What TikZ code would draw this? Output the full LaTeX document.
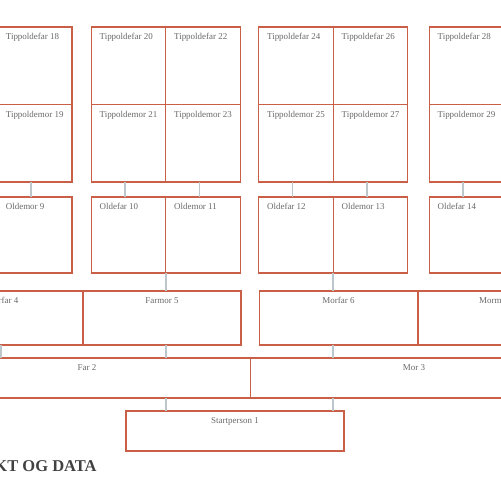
\documentclass[tikz,border=0pt]{standalone}
\usepackage{fontspec}
\setmainfont{Liberation Serif}
\definecolor{boxline}{RGB}{200,95,70}
\definecolor{linkgray}{RGB}{188,198,203}
\definecolor{labelgray}{RGB}{105,105,105}
\definecolor{headgray}{RGB}{65,65,65}
\tikzset{
  person/.style={draw=boxline, line width=0.6pt, inner sep=0pt, outer sep=0pt},
  gen5/.style={person, minimum width=1.49cm, minimum height=1.55cm},
  gen4/.style={person, minimum width=1.49cm, minimum height=1.52cm},
  gen3/.style={person, minimum width=3.16cm, minimum height=1.08cm},
  gen2/.style={person, minimum width=6.54cm, minimum height=0.80cm},
  gen1/.style={person, minimum width=4.36cm, minimum height=0.80cm},
  lbl/.style={inner sep=0pt, text=labelgray, font=\fontsize{5.1}{6}\selectfont},
  tl/.style={label={[lbl, anchor=north west, xshift=0.16cm, yshift=-0.125cm]north west:#1}},
  tc/.style={label={[lbl, anchor=north, yshift=-0.12cm]north:#1}},
  link/.style={draw=linkgray, line width=1.1pt}
}
\begin{document}
\begin{tikzpicture}[x=0.02cm, y=-0.02cm]
\useasboundingbox (0,0) rectangle (500,500);

% Tippoldeforeldre (top)
\node[gen5, tl={Tippoldefar 18}] (t18) at (34.75,65.75) {};
\node[gen5, tl={Tippoldemor 19}] (t19) at (34.75,143.25) {};
\node[gen5, tl={Tippoldefar 20}] (t20) at (128.5,65.75) {};
\node[gen5, tl={Tippoldemor 21}] (t21) at (128.5,143.25) {};
\node[gen5, tl={Tippoldefar 22}] (t22) at (203,65.75) {};
\node[gen5, tl={Tippoldemor 23}] (t23) at (203,143.25) {};
\node[gen5, tl={Tippoldefar 24}] (t24) at (296,65.75) {};
\node[gen5, tl={Tippoldemor 25}] (t25) at (296,143.25) {};
\node[gen5, tl={Tippoldefar 26}] (t26) at (370.5,65.75) {};
\node[gen5, tl={Tippoldemor 27}] (t27) at (370.5,143.25) {};
\node[gen5, tl={Tippoldefar 28}] (t28) at (466.5,65.75) {};
\node[gen5, tl={Tippoldemor 29}] (t29) at (466.5,143.25) {};

% Oldeforeldre
\node[gen4, tl={Oldemor 9}] (o9) at (34.75,235) {};
\node[gen4, tl={Oldefar 10}] (o10) at (128.5,235) {};
\node[gen4, tl={Oldemor 11}] (o11) at (203,235) {};
\node[gen4, tl={Oldefar 12}] (o12) at (296,235) {};
\node[gen4, tl={Oldemor 13}] (o13) at (370.5,235) {};
\node[gen4, tl={Oldefar 14}] (o14) at (466.5,235) {};

% Besteforeldre
\node[gen3, tc={Farfar 4}] (f4) at (4,318) {};
\node[gen3, tc={Farmor 5}] (f5) at (162,318) {};
\node[gen3, tc={Morfar 6}] (m6) at (338.5,318) {};
\node[gen3, tc={Mormor 7}] (m7) at (497.5,318) {};

% Foreldre
\node[gen2, tc={Far 2}] (far2) at (87,378) {};
\node[gen2, tc={Mor 3}] (mor3) at (414,378) {};

% Startperson
\node[gen1, tc={Startperson 1}] (sp) at (235,431) {};

% Tippoldeforeldre to oldeforeldre
\foreach \a/\b in {t19/o9, t21/o10, t23/o11, t25/o12, t27/o13, t29/o14}
  \draw[link] ([xshift=-0.07cm]\a.south) -- ([xshift=-0.07cm]\b.north);

% Oldeforeldre to besteforeldre
\draw[link] (o10.south east) -- (o10.south east |- f5.north);
\draw[link] (o12.south east) -- (o12.south east |- m6.north);

% Besteforeldre to foreldre
\draw[link] ([xshift=0.07cm]f4.south -| t18.west) -- ([xshift=0.07cm]far2.north -| t18.west);
\draw[link] (f5.south -| o10.south east) -- (far2.north -| o10.south east);
\draw[link] (m6.south -| o12.south east) -- (mor3.north -| o12.south east);

% Foreldre to startperson
\draw[link] (far2.south -| o10.south east) -- (sp.north -| o10.south east);
\draw[link] (mor3.south -| o12.south east) -- (sp.north -| o12.south east);

% Heading
\node[anchor=base east, inner sep=0pt, text=headgray, font=\fontsize{9.4}{11}\selectfont\bfseries] (head) at (97,471) {KT OG DATA};

\end{tikzpicture}
\end{document}
